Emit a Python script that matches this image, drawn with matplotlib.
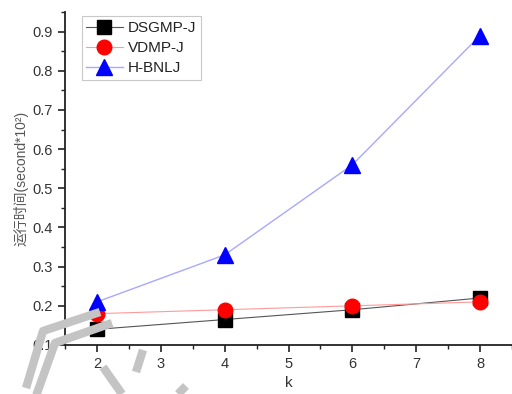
import matplotlib.pyplot as plt
from matplotlib.lines import Line2D
from matplotlib.ticker import MultipleLocator

plt.rcParams['font.family'] = ['Liberation Sans', 'Noto Sans CJK SC', 'DejaVu Sans']

k = [2, 4, 6, 8]
dsgmp_j = [0.14, 0.165, 0.19, 0.22]
vdmp_j = [0.18, 0.19, 0.20, 0.21]
h_bnlj = [0.21, 0.33, 0.56, 0.89]

fig = plt.figure(figsize=(5.12, 3.94), dpi=100)
ax = fig.add_axes([65 / 512, 49 / 394, 447 / 512, 333 / 394])

ax.plot(k, dsgmp_j, color='#555555', lw=0.8, marker='s', ms=9.5,
        mfc='black', mec='black', label='DSGMP-J')
ax.plot(k, vdmp_j, color='#ff9a9a', lw=0.8, marker='o', ms=10.5,
        mfc='red', mec='red', label='VDMP-J')
ax.plot(k, h_bnlj, color='#a8a8ff', lw=1.0, marker='^', ms=11,
        mfc='blue', mec='blue', label='H-BNLJ')

ax.set_xlim(1.5, 8.5)
ax.set_ylim(0.1, 0.95)
ax.xaxis.set_major_locator(MultipleLocator(1))
ax.xaxis.set_minor_locator(MultipleLocator(0.5))
ax.yaxis.set_major_locator(MultipleLocator(0.1))
ax.yaxis.set_minor_locator(MultipleLocator(0.05))
ax.set_xticks([2, 3, 4, 5, 6, 7, 8])
ax.set_yticks([0.1, 0.2, 0.3, 0.4, 0.5, 0.6, 0.7, 0.8, 0.9])
ax.set_yticklabels(['0.1', '0.2', '0.3', '0.4', '0.5', '0.6', '0.7', '0.8', '0.9'])

for side in ['top', 'right']:
    ax.spines[side].set_visible(False)
for side in ['left', 'bottom']:
    ax.spines[side].set_linewidth(1.3)
    ax.spines[side].set_color('#222222')
ax.tick_params(which='major', direction='out', length=5, width=1.2,
               labelsize=10.5, colors='#222222', labelcolor='#333333')
ax.tick_params(which='minor', direction='out', length=3, width=1.0, colors='#222222')

ax.set_xlabel('k', fontsize=11, color='#333333', labelpad=4)
ax.set_ylabel('运行时间(second*10²)', fontsize=10, color='#555555', labelpad=3)

leg = ax.legend(loc='upper left', bbox_to_anchor=(0.02, 1.01), fontsize=11,
                frameon=True, fancybox=False, edgecolor='#bbbbbb',
                handlelength=2.4, handletextpad=0.35, borderpad=0.3,
                labelspacing=0.4, markerscale=1.0)
leg.get_frame().set_linewidth(0.8)
for t in leg.get_texts():
    t.set_color('#222222')


# grey overlay strokes in the lower-left corner
def stroke(points):
    xs = [x / 512 for x, y in points]
    ys = [1 - y / 394 for x, y in points]
    fig.add_artist(Line2D(xs, ys, transform=fig.transFigure, color='#c4c4c4',
                          lw=6, solid_capstyle='butt', zorder=10))


stroke([(26, 388), (43, 331), (100, 312)])
stroke([(36, 396), (55, 343), (112, 323)])
stroke([(143, 350), (136, 372)])
stroke([(103, 367), (122, 394)])
stroke([(178, 394), (186, 386)])

fig.savefig('out.png', dpi=100)
